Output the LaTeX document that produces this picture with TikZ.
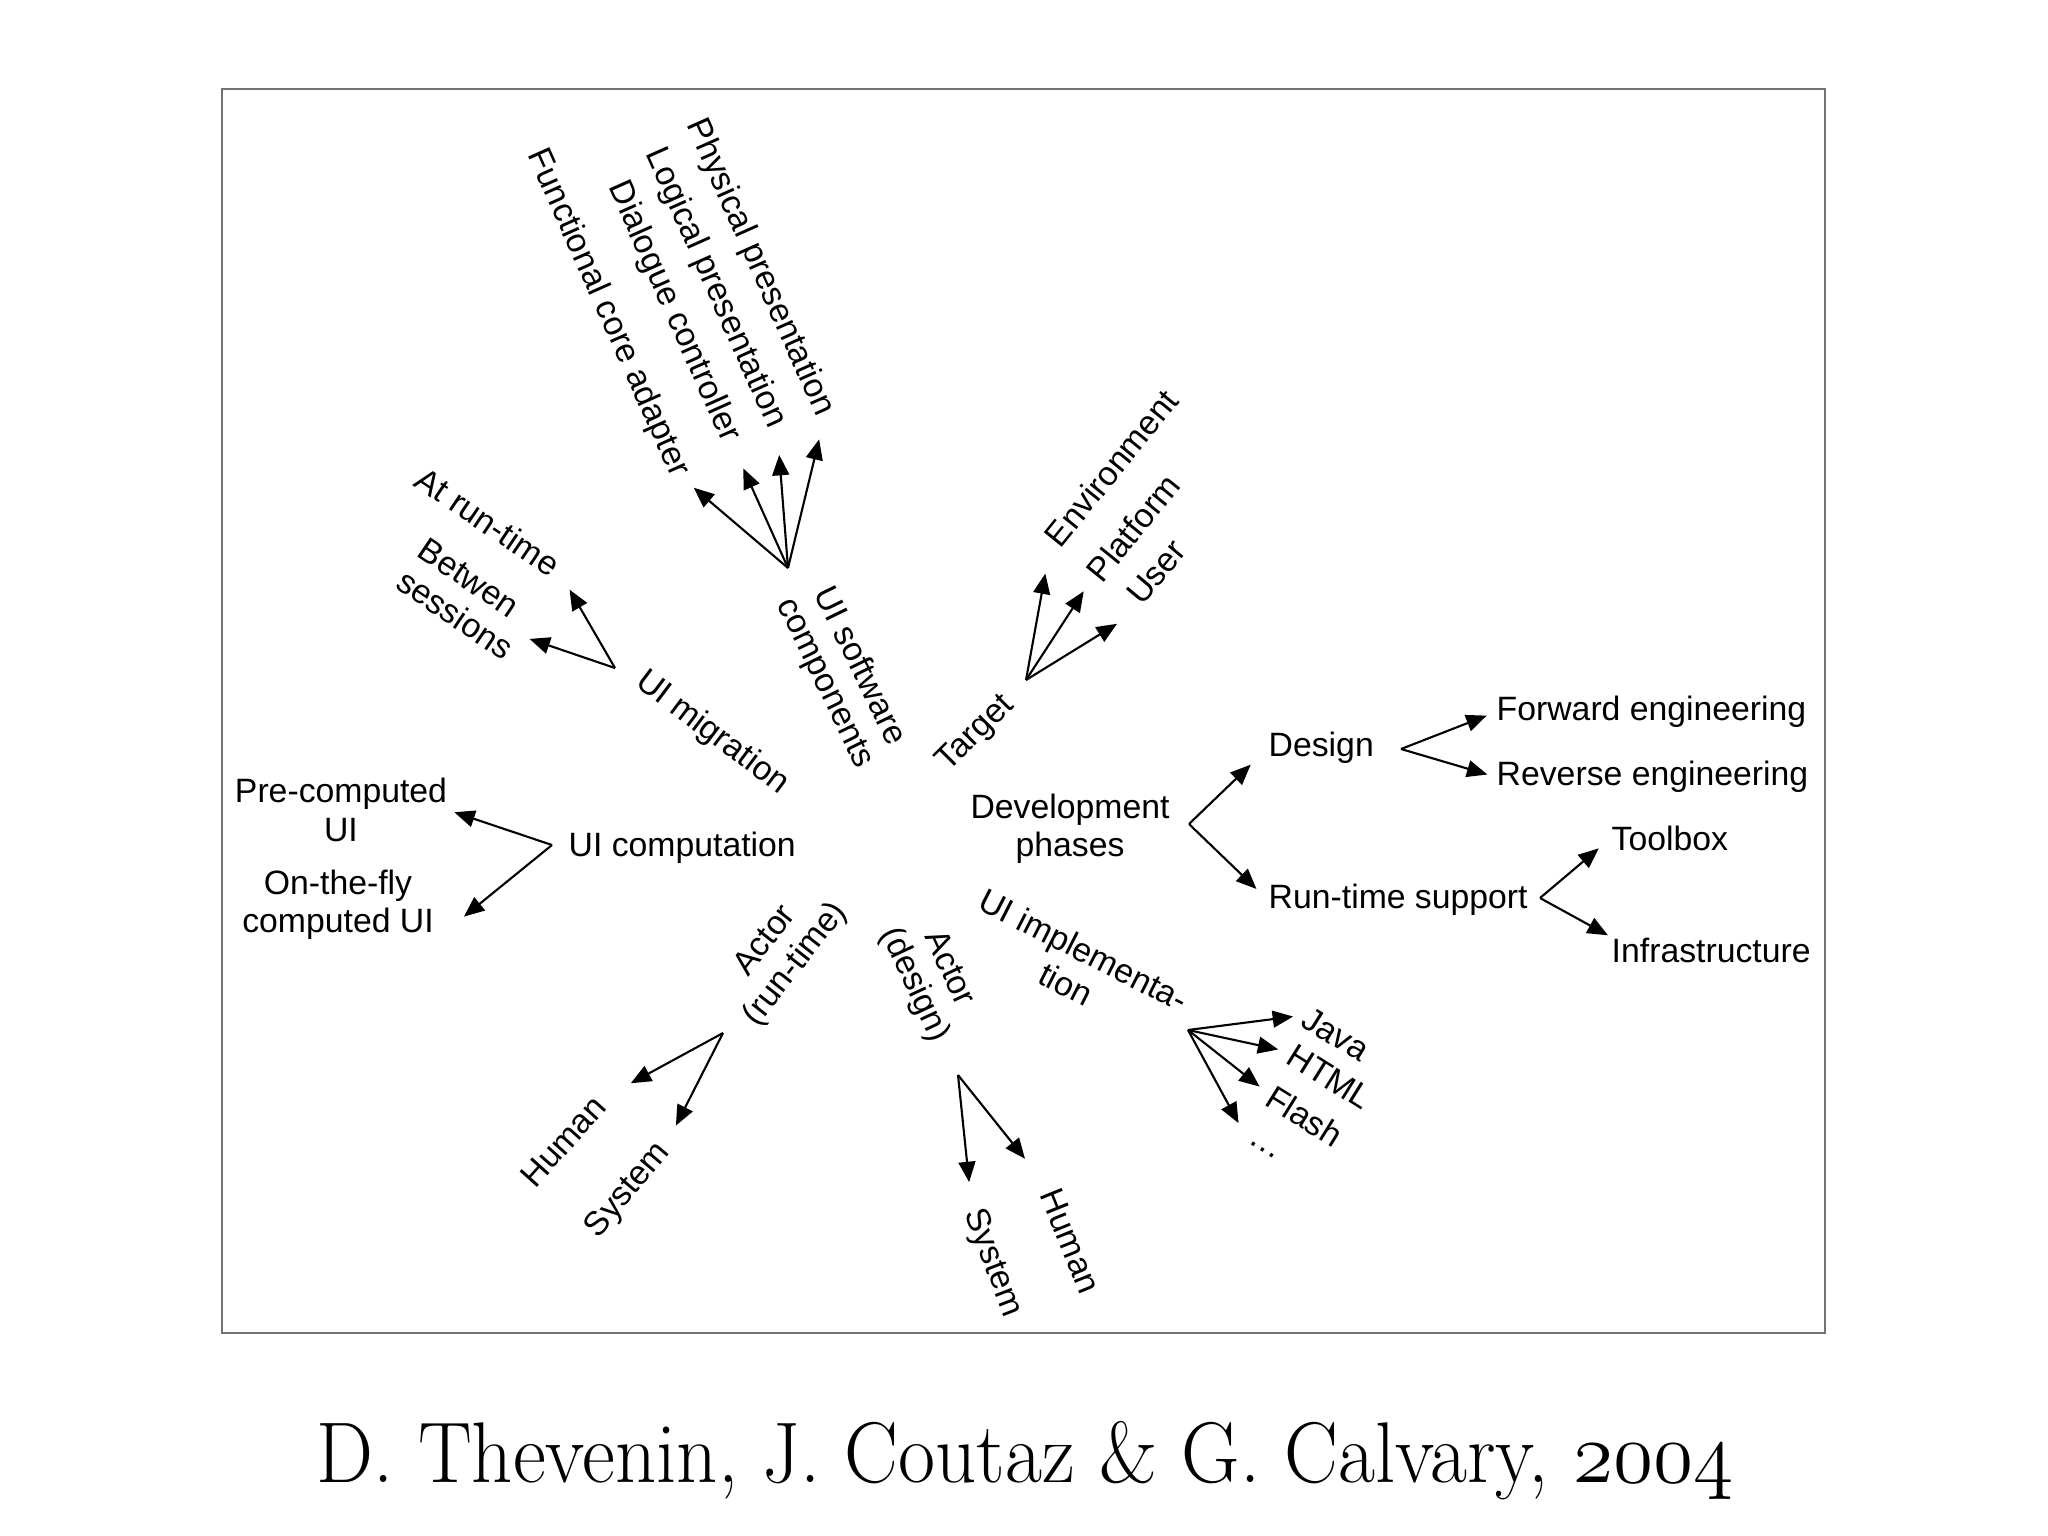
\documentclass[tikz,border=0pt]{standalone}
\usepackage{fontspec}
\usepackage{graphicx}
\usetikzlibrary{positioning, arrows.meta}
\newfontfamily\labelfont{Liberation Sans}

\begin{document}
\begin{tikzpicture}[
    x=0.01cm, y=-0.01cm,
    lbl/.style={
        inner sep=0pt,
        font=\labelfont\fontsize{9.6}{10.9}\selectfont
    },
    arr/.style={
        -{Triangle[length=5.8pt,width=4.8pt]},
        line width=0.6pt
    },
    figframe/.style={
        draw=black!55, line width=0.7pt
    }
]

% Canvas and frame
\fill[white] (0,0) rectangle (2048,1536);
\draw[figframe] (222,89) rectangle (1825,1333);

% UI software components
\node[lbl,rotate=-64,align=center] (soft) at (842,675) {UI software\\components};
\coordinate (softF) at (788,568);
\node[lbl,rotate=-66,anchor=east] (softA) at (825,415) {Physical presentation};
\node[lbl,rotate=-66,anchor=east] (softB) at (777,427) {Logical presentation};
\node[lbl,rotate=-66,anchor=east] (softC) at (731,441) {Dialogue controller};
\node[lbl,rotate=-66,anchor=east] (softD) at (680,476) {Functional core adapter};
\draw[arr,shorten >=0.25cm] (softF) -- (softA.east);
\draw[arr,shorten >=0.28cm] (softF) -- (softB.east);
\draw[arr,shorten >=0.3cm] (softF) -- (softC.east);
\draw[arr,shorten >=0.18cm] (softF) -- (softD.east);

% Target
\node[lbl,rotate=45] (target) at (976,734) {Target};
\coordinate (targetF) at (1026,680);
\node[lbl,rotate=51,anchor=west] (targetA) at (1051,542) {Environment};
\node[lbl,rotate=51,anchor=west] (targetB) at (1093,577) {Platform};
\node[lbl,rotate=50,anchor=west] (targetC) at (1133,600) {User};
\draw[arr,shorten >=0.32cm] (targetF) -- (targetA.west);
\draw[arr,shorten >=0.17cm] (targetF) -- (targetB.west);
\draw[arr,shorten >=0.3cm] (targetF) -- (targetC.south west);

% Development phases
\node[lbl,align=center] (dev) at (1070,829) {Development\\phases};
\coordinate (devF) at (1189,824);
\node[lbl,anchor=west] (design) at (1268,748) {Design};
\node[lbl,below=1.52cm of design.west,anchor=west] (run) {Run-time support};
\draw[arr,shorten >=0.24cm] (devF) -- (design.west);
\draw[arr,shorten >=0.16cm] (devF) -- (run.west);

\coordinate (designF) at (1401,749);
\node[lbl,anchor=west] (designA) at (1496,712) {Forward engineering};
\node[lbl,below=0.65cm of designA.west,anchor=west] (designB) {Reverse engineering};
\draw[arr,shorten >=0.1cm] (designF) -- (designA.west);
\draw[arr,shorten >=0.09cm] (designF) -- (designB.west);

\coordinate (runF) at (1540,898);
\node[lbl,anchor=west] (runA) at (1611,838) {Toolbox};
\node[lbl,below=1.12cm of runA.west,anchor=west] (runB) {Infrastructure};
\draw[arr,shorten >=0.16cm] (runF) -- (runA.west);
\draw[arr,shorten >=1pt] (runF) -- (runB.north west);

% UI implementation
\node[lbl,rotate=-27,align=center] (impl) at (1075,967) {UI implementa-\\tion};
\coordinate (implF) at (1188,1030);
\node[lbl,rotate=-32,anchor=west] (implA) at (1305,1015) {Java};
\node[lbl,rotate=-32,anchor=west] (implB) at (1290,1052) {HTML};
\node[lbl,rotate=-32,anchor=west] (implC) at (1269,1094) {Flash};
\node[lbl,rotate=-32] (implD) at (1263,1150) {\ldots};
\draw[arr,shorten >=0.12cm] (implF) -- (implA.west);
\draw[arr,shorten >=0.12cm] (implF) -- (implB.west);
\draw[arr,shorten >=0.12cm] (implF) -- (implC.west);
\draw[arr,shorten >=0.2cm] (implF) -- (implD.west);

% Actor (design)
\node[lbl,rotate=-65,align=center] (actD) at (931,977) {Actor\\(design)};
\coordinate (actDF) at (958,1075);
\node[lbl,rotate=-69,anchor=west] (actDA) at (972,1210) {System};
\node[lbl,rotate=-68,anchor=west] (actDB) at (1050,1190) {Human};
\draw[arr,shorten >=0.28cm] (actDF) -- (actDA.west);
\draw[arr,shorten >=0.4cm] (actDF) -- (actDB.west);

% Actor (run-time)
\node[lbl,rotate=52,align=center] (actR) at (781,953) {Actor\\(run-time)};
\coordinate (actRF) at (723,1033);
\node[lbl,rotate=48,anchor=east] (actRA) at (600,1100) {Human};
\node[lbl,rotate=50,anchor=east] (actRB) at (665,1147) {System};
\draw[arr,shorten >=0.35cm] (actRF) -- (actRA.east);
\draw[arr,shorten >=0.24cm] (actRF) -- (actRB.east);

% UI computation
\node[lbl,anchor=west] (comp) at (568,848) {UI computation};
\coordinate (compF) at (552,845);
\node[lbl,align=center] (compA) at (341,810) {Pre-computed\\UI};
\node[lbl,align=center] (compB) at (338,905) {On-the-fly\\computed UI};
\draw[arr,shorten >=2pt] (compF) -- (compA.east);
\draw[arr,shorten >=0.38cm] (compF) -- (compB.south east);

% UI migration
\node[lbl,rotate=-37] (migr) at (712,733) {UI migration};
\coordinate (migrF) at (615,668);
\node[lbl,rotate=-34,anchor=east] (migrA) at (557,568) {At run-time};
\node[lbl,rotate=-34,anchor=east,align=left] (migrB) at (521,636) {Betwen\\sessions};
\draw[arr,shorten >=0.25cm] (migrF) -- (migrA.east);
\draw[arr,shorten >=0.09cm] (migrF) -- (migrB.east);

% Credit line
\node[anchor=base,font=\fontsize{24.5}{29}\selectfont] (credit) at (1025,1482)
{\scalebox{0.935}[1]{D. Thevenin, J. Coutaz \& G. Calvary, $\mathnormal{2004}$}};

\end{tikzpicture}
\end{document}
